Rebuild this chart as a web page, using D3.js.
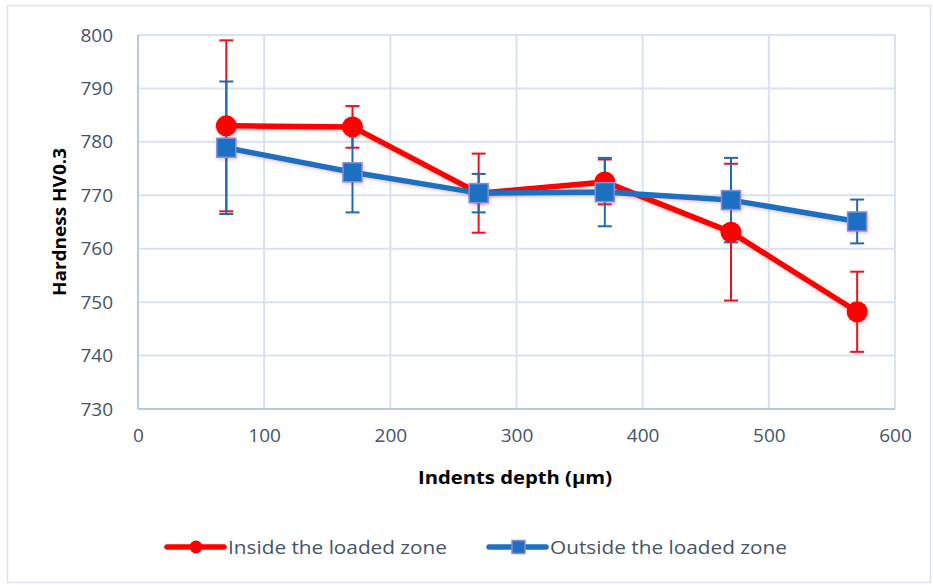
<!DOCTYPE html>
<html>
<head>
<meta charset="utf-8">
<script src="https://cdn.jsdelivr.net/npm/d3@7"></script>
<style>
  html, body { margin: 0; padding: 0; background: #ffffff; }
  svg { display: block; }
  text { font-family: "Open Sans", "Liberation Sans", sans-serif; }
</style>
</head>
<body>
<div id="chart"></div>
<script>
// Indentation depth positions (µm)
const depths = [70, 170, 270, 370, 470, 570];

// Mean hardness and standard deviation, inside the loaded zone
const insideMean = [783.0, 782.8, 770.4, 772.5, 763.1, 748.2];
const insideErr  = [16.0, 3.9, 7.4, 4.2, 12.8, 7.5];

// Mean hardness and standard deviation, outside the loaded zone
const outsideMean = [778.9, 774.3, 770.4, 770.6, 769.1, 765.1];
const outsideErr  = [12.4, 7.5, 3.6, 6.4, 7.9, 4.1];

const xTicks = [0, 100, 200, 300, 400, 500, 600];
const yTicks = [730, 740, 750, 760, 770, 780, 790, 800];

const seriesNames = ["Inside the loaded zone", "Outside the loaded zone"];

const W = 933, H = 585;
const plot = { left: 138, right: 895, top: 35, bottom: 409 };

const svg = d3.select("#chart").append("svg")
  .attr("width", W).attr("height", H);

// soft shadow under the data lines
const defs = svg.append("defs");
const f = defs.append("filter").attr("id", "soft")
  .attr("x", "-10%").attr("y", "-10%").attr("width", "120%").attr("height", "130%");
f.append("feDropShadow").attr("dx", 1).attr("dy", 2).attr("stdDeviation", 1.5)
  .attr("flood-color", "#b04040").attr("flood-opacity", 0.25);

// chart border
svg.append("rect")
  .attr("x", 7.5).attr("y", 5.5).attr("width", 923).attr("height", 577)
  .attr("fill", "#ffffff").attr("stroke", "#dbe3ee").attr("stroke-width", 1.5);

const x = d3.scaleLinear().domain([0, 600]).range([plot.left, plot.right]);
const y = d3.scaleLinear().domain([730, 800]).range([plot.bottom, plot.top]);

// gridlines
const grid = svg.append("g");
grid.selectAll(".gy").data(yTicks).join("line")
  .attr("x1", plot.left).attr("x2", plot.right)
  .attr("y1", d => y(d)).attr("y2", d => y(d))
  .attr("stroke", "#d9e2ef").attr("stroke-width", 2);
grid.selectAll(".gx").data(xTicks).join("line")
  .attr("x1", d => x(d)).attr("x2", d => x(d))
  .attr("y1", plot.top).attr("y2", plot.bottom)
  .attr("stroke", "#d9e2ef").attr("stroke-width", 2);

// axis lines
svg.append("line").attr("x1", plot.left).attr("x2", plot.left)
  .attr("y1", plot.top).attr("y2", plot.bottom)
  .attr("stroke", "#b8c9e3").attr("stroke-width", 2);
svg.append("line").attr("x1", plot.left).attr("x2", plot.right)
  .attr("y1", plot.bottom).attr("y2", plot.bottom)
  .attr("stroke", "#b8c9e3").attr("stroke-width", 2);

// tick labels through d3 axes
const tickColor = "#44546a";
const yAxis = svg.append("g").attr("transform", `translate(${plot.left},0)`)
  .call(d3.axisLeft(y).tickValues(yTicks).tickSize(0).tickPadding(25));
const xAxis = svg.append("g").attr("transform", `translate(0,${plot.bottom})`)
  .call(d3.axisBottom(x).tickValues(xTicks).tickSize(0).tickPadding(20));
[yAxis, xAxis].forEach(a => {
  a.select(".domain").remove();
  a.selectAll("text").attr("fill", tickColor)
    .style("font-size", "19px").style("font-family", '"Open Sans", sans-serif');
});

// axis titles
svg.append("text").attr("x", 515).attr("y", 484)
  .attr("text-anchor", "middle").attr("fill", "#000")
  .attr("textLength", 194).attr("lengthAdjust", "spacingAndGlyphs")
  .style("font-size", "17px").style("font-weight", "bold")
  .text("Indents depth (µm)");
svg.append("text")
  .attr("transform", `translate(66,${(plot.top + plot.bottom) / 2}) rotate(-90)`)
  .attr("text-anchor", "middle").attr("fill", "#000")
  .attr("textLength", 148).attr("lengthAdjust", "spacingAndGlyphs")
  .style("font-size", "17px").style("font-weight", "bold")
  .text("Hardness HV0.3");

const red = "#ff0000", redErr = "#e8141b";
const blue = "#1f70c1", blueErr = "#2468ad", blueEdge = "#8c8ad8";

const inside = depths.map((d, i) => ({ x: d, y: insideMean[i], e: insideErr[i] }));
const outside = depths.map((d, i) => ({ x: d, y: outsideMean[i], e: outsideErr[i] }));

function errorBars(data, color) {
  const g = svg.append("g").attr("stroke", color).attr("stroke-width", 2);
  g.selectAll(".v").data(data).join("line")
    .attr("x1", d => x(d.x)).attr("x2", d => x(d.x))
    .attr("y1", d => y(d.y + d.e)).attr("y2", d => y(d.y - d.e));
  g.selectAll(".t").data(data).join("line")
    .attr("x1", d => x(d.x) - 7).attr("x2", d => x(d.x) + 7)
    .attr("y1", d => y(d.y + d.e)).attr("y2", d => y(d.y + d.e));
  g.selectAll(".b").data(data).join("line")
    .attr("x1", d => x(d.x) - 7).attr("x2", d => x(d.x) + 7)
    .attr("y1", d => y(d.y - d.e)).attr("y2", d => y(d.y - d.e));
}

errorBars(inside, redErr);
errorBars(outside, blueErr);

const line = d3.line().x(d => x(d.x)).y(d => y(d.y));

// inside series
const gIn = svg.append("g").attr("filter", "url(#soft)");
gIn.append("path").datum(inside).attr("d", line)
  .attr("fill", "none").attr("stroke", red).attr("stroke-width", 5.5)
  .attr("stroke-linejoin", "round");
gIn.selectAll("circle").data(inside).join("circle")
  .attr("cx", d => x(d.x)).attr("cy", d => y(d.y)).attr("r", 10.5)
  .attr("fill", red);

// outside series
const gOut = svg.append("g").attr("filter", "url(#soft)");
gOut.append("path").datum(outside).attr("d", line)
  .attr("fill", "none").attr("stroke", blue).attr("stroke-width", 5.5)
  .attr("stroke-linejoin", "round");
gOut.selectAll("rect").data(outside).join("rect")
  .attr("x", d => x(d.x) - 9.5).attr("y", d => y(d.y) - 9.5)
  .attr("width", 19).attr("height", 19)
  .attr("fill", blue).attr("stroke", blueEdge).attr("stroke-width", 1.5);

// legend
const legY = 547;
const leg = svg.append("g");
const items = [
  { name: seriesNames[0], x0: 167, color: red, shape: "circle", len: 219 },
  { name: seriesNames[1], x0: 489, color: blue, shape: "rect", len: 237 }
];
items.forEach(it => {
  leg.append("line").attr("x1", it.x0).attr("x2", it.x0 + 57)
    .attr("y1", legY).attr("y2", legY)
    .attr("stroke", it.color).attr("stroke-width", 5.5).attr("stroke-linecap", "round");
  if (it.shape === "circle") {
    leg.append("circle").attr("cx", it.x0 + 29).attr("cy", legY).attr("r", 6.5).attr("fill", it.color);
  } else {
    leg.append("rect").attr("x", it.x0 + 23).attr("y", legY - 6.5)
      .attr("width", 13).attr("height", 13)
      .attr("fill", it.color).attr("stroke", blueEdge).attr("stroke-width", 1.5);
  }
  leg.append("text").attr("x", it.x0 + 61).attr("y", legY + 7)
    .attr("fill", tickColor).style("font-size", "19px")
    .attr("textLength", it.len).attr("lengthAdjust", "spacingAndGlyphs")
    .text(it.name);
});
</script>
</body>
</html>
